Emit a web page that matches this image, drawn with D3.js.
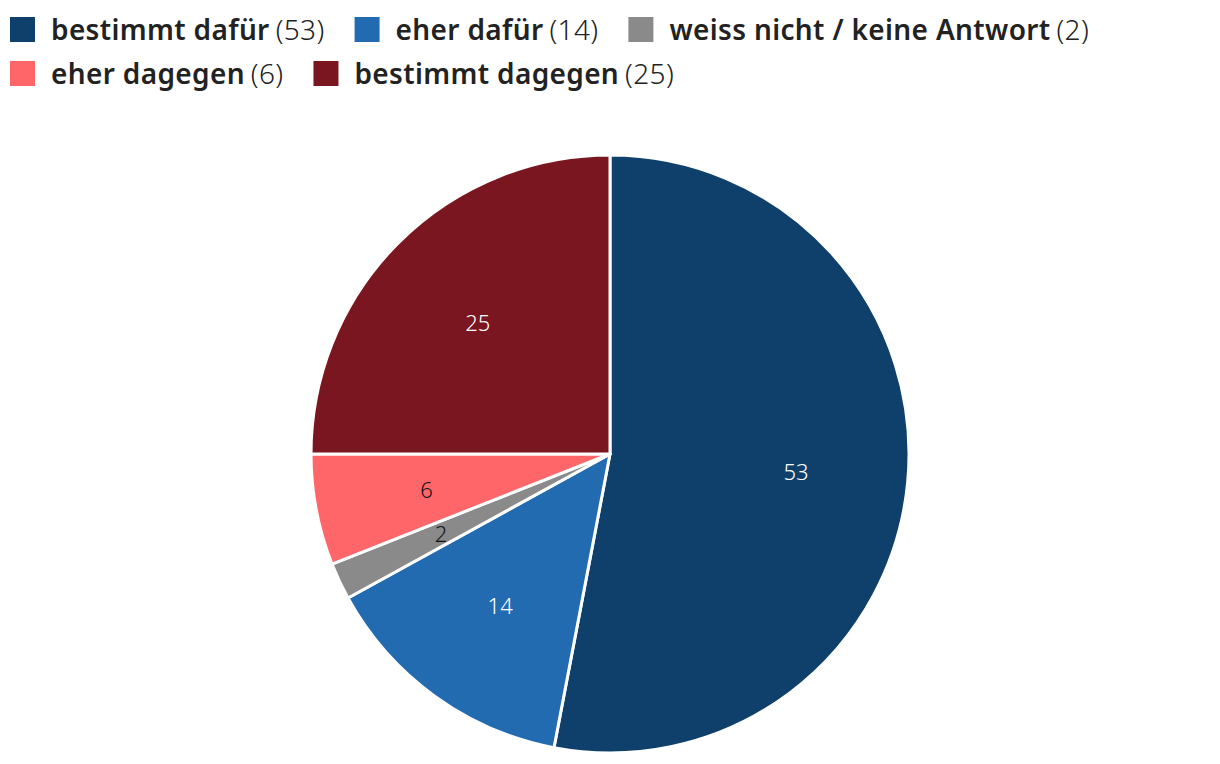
<!DOCTYPE html>
<html>
<head>
<meta charset="utf-8">
<script src="https://cdn.jsdelivr.net/npm/d3@7"></script>
<style>
  body { margin: 0; background: #fff; }
  svg { display: block; font-family: "Noto Sans", sans-serif; }
</style>
</head>
<body>
<svg width="1220" height="764"></svg>
<script>
// answers, clockwise from 12 o'clock
var categories = ["bestimmt dafür", "eher dafür", "weiss nicht / keine Antwort", "eher dagegen", "bestimmt dagegen"];
var values = [53, 14, 2, 6, 25];
var colors = ["#0f3f6b", "#226bb1", "#8a8a8a", "#ff6669", "#7a1620"];
var labelColors = ["#fff", "#fff", "#111", "#111", "#fff"];

var data = categories.map(function(c, i) {
	return {name: c, value: values[i], color: colors[i], label: labelColors[i]};
});

var svg = d3.select("svg");

// ---- legend (flowing, wraps like the html legend)
var legend = svg.append("g").attr("class", "legend");
var lx = 10, ly = 0, rowH = 44, maxW = 1210;
data.forEach(function(d) {
	var item = legend.append("g");
	item.append("rect")
		.attr("x", 0).attr("y", 17)
		.attr("width", 25).attr("height", 25)
		.attr("fill", d.color);
	var t = item.append("text")
		.attr("x", 41).attr("y", 40)
		.attr("fill", "#222")
		.style("font-size", "28px")
		.style("letter-spacing", "0.35px");
	t.append("tspan").style("font-weight", 600).text(d.name);
	t.append("tspan").style("font-weight", 300).attr("dx", 6).text("(" + d.value + ")");
	var w = 41 + 6 + t.node().getComputedTextLength();
	if (lx + w > maxW) { lx = 10; ly += rowH; }
	item.attr("transform", "translate(" + lx + "," + ly + ")");
	lx += w + 30;
});

// ---- pie
var cx = 610, cy = 454, r = 299;
var g = svg.append("g")
	.attr("transform", "translate(" + cx + "," + cy + ")");

var pie = d3.pie().sort(null).value(function(d) { return d.value; });
var arc = d3.arc().innerRadius(0).outerRadius(r);
var labelArc = d3.arc().innerRadius(r * 1.25).outerRadius(0);

var arcs = pie(data);

g.selectAll("path.slice")
	.data(arcs)
	.enter().append("path")
	.attr("class", "slice")
	.attr("d", arc)
	.attr("fill", function(d) { return d.data.color; })
	.attr("stroke", "#fff")
	.attr("stroke-width", 3)
	.attr("stroke-linejoin", "round");

g.selectAll("text.val")
	.data(arcs)
	.enter().append("text")
	.attr("class", "val")
	.attr("transform", function(d) { return "translate(" + labelArc.centroid(d) + ")"; })
	.attr("text-anchor", "middle")
	.attr("dy", "0.4em")
	.attr("fill", function(d) { return d.data.label; })
	.style("font-size", "22px")
	.style("font-weight", 300)
	.text(function(d) { return d.data.value; });
</script>
</body>
</html>
